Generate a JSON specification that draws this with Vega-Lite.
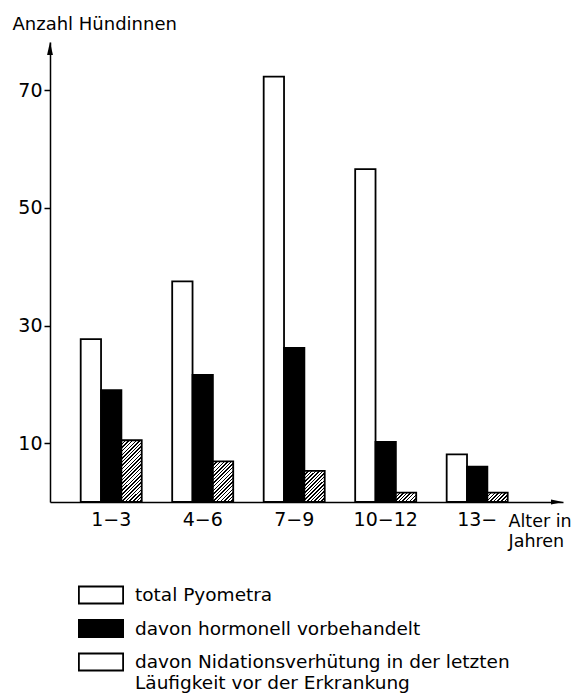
{
  "$schema": "https://vega.github.io/schema/vega-lite/v6.json",
  "width": 513,
  "height": 460,
  "autosize": {"type": "none"},
  "padding": {"left": 50, "top": 42, "right": 14, "bottom": 191},
  "background": "white",
  "config": {
    "view": {"stroke": null},
    "font": "DejaVu Sans",
    "axis": {"domainColor": "black", "domainWidth": 1.5, "tickColor": "black", "tickWidth": 1.5, "labelColor": "black", "titleColor": "black", "grid": false, "labelFont": "DejaVu Sans", "titleFont": "DejaVu Sans"},
    "legend": {"labelFont": "DejaVu Sans", "labelColor": "black"}
  },
  "layer": [
    {
      "data": {"values": [
        {"age": "1−3", "series": "total Pyometra", "n": 27.7},
        {"age": "1−3", "series": "davon hormonell vorbehandelt", "n": 19.0},
        {"age": "1−3", "series": "davon Nidationsverhütung in der letzten Läufigkeit vor der Erkrankung", "n": 10.5},
        {"age": "4−6", "series": "total Pyometra", "n": 37.5},
        {"age": "4−6", "series": "davon hormonell vorbehandelt", "n": 21.6},
        {"age": "4−6", "series": "davon Nidationsverhütung in der letzten Läufigkeit vor der Erkrankung", "n": 6.9},
        {"age": "7−9", "series": "total Pyometra", "n": 72.3},
        {"age": "7−9", "series": "davon hormonell vorbehandelt", "n": 26.2},
        {"age": "7−9", "series": "davon Nidationsverhütung in der letzten Läufigkeit vor der Erkrankung", "n": 5.3},
        {"age": "10−12", "series": "total Pyometra", "n": 56.6},
        {"age": "10−12", "series": "davon hormonell vorbehandelt", "n": 10.2},
        {"age": "10−12", "series": "davon Nidationsverhütung in der letzten Läufigkeit vor der Erkrankung", "n": 1.6},
        {"age": "13−", "series": "total Pyometra", "n": 8.1},
        {"age": "13−", "series": "davon hormonell vorbehandelt", "n": 6.0},
        {"age": "13−", "series": "davon Nidationsverhütung in der letzten Läufigkeit vor der Erkrankung", "n": 1.6}
      ]},
      "mark": {"type": "bar", "stroke": "black", "strokeWidth": 1.8},
      "encoding": {
        "x": {
          "field": "age", "type": "nominal",
          "sort": ["1−3", "4−6", "7−9", "10−12", "13−"],
          "scale": {"paddingInner": 0.333, "paddingOuter": 0.47, "align": 0.357},
          "axis": {
            "title": ["Alter in", "Jahren"],
            "titleAngle": 0, "titleAlign": "left", "titleX": 458, "titleY": 24,
            "titleBaseline": "alphabetic", "titleFontSize": 17.5, "titleFontWeight": "normal", "titleLineHeight": 20,
            "ticks": false, "labelPadding": 8, "labelFontSize": 19, "labelAngle": 0
          }
        },
        "xOffset": {
          "field": "series", "type": "nominal",
          "sort": ["total Pyometra", "davon hormonell vorbehandelt", "davon Nidationsverhütung in der letzten Läufigkeit vor der Erkrankung"],
          "scale": {"paddingInner": 0, "paddingOuter": 0}
        },
        "y": {
          "field": "n", "type": "quantitative",
          "scale": {"domain": [0, 78.2], "nice": false},
          "axis": {
            "title": "Anzahl Hündinnen",
            "titleAngle": 0, "titleAlign": "left", "titleX": -38, "titleY": -13,
            "titleBaseline": "alphabetic", "titleFontSize": 18, "titleFontWeight": "normal",
            "values": [10, 30, 50, 70], "tickSize": 6, "labelPadding": 2, "labelFontSize": 19
          }
        },
        "fill": {
          "field": "series", "type": "nominal",
          "scale": {
            "domain": ["total Pyometra", "davon hormonell vorbehandelt", "davon Nidationsverhütung in der letzten Läufigkeit vor der Erkrankung"],
            "range": ["white", "black", "white"]
          },
          "condition": [
            {"test": "indexof(datum.series, 'Nidation') >= 0 && datum.age === '1−3'",
             "value": {"gradient": "linear", "x1": 0, "y1": 0, "x2": 0.4323, "y2": 1.3141, "stops": [
              {"offset":0,"color":"#000"},{"offset":0.016,"color":"#000"},{"offset":0.016,"color":"#fff"},{"offset":0.04,"color":"#fff"},
              {"offset":0.04,"color":"#000"},{"offset":0.056,"color":"#000"},{"offset":0.056,"color":"#fff"},{"offset":0.08,"color":"#fff"},
              {"offset":0.08,"color":"#000"},{"offset":0.096,"color":"#000"},{"offset":0.096,"color":"#fff"},{"offset":0.12,"color":"#fff"},
              {"offset":0.12,"color":"#000"},{"offset":0.136,"color":"#000"},{"offset":0.136,"color":"#fff"},{"offset":0.16,"color":"#fff"},
              {"offset":0.16,"color":"#000"},{"offset":0.176,"color":"#000"},{"offset":0.176,"color":"#fff"},{"offset":0.2,"color":"#fff"},
              {"offset":0.2,"color":"#000"},{"offset":0.216,"color":"#000"},{"offset":0.216,"color":"#fff"},{"offset":0.24,"color":"#fff"},
              {"offset":0.24,"color":"#000"},{"offset":0.256,"color":"#000"},{"offset":0.256,"color":"#fff"},{"offset":0.28,"color":"#fff"},
              {"offset":0.28,"color":"#000"},{"offset":0.296,"color":"#000"},{"offset":0.296,"color":"#fff"},{"offset":0.32,"color":"#fff"},
              {"offset":0.32,"color":"#000"},{"offset":0.336,"color":"#000"},{"offset":0.336,"color":"#fff"},{"offset":0.36,"color":"#fff"},
              {"offset":0.36,"color":"#000"},{"offset":0.376,"color":"#000"},{"offset":0.376,"color":"#fff"},{"offset":0.4,"color":"#fff"},
              {"offset":0.4,"color":"#000"},{"offset":0.416,"color":"#000"},{"offset":0.416,"color":"#fff"},{"offset":0.44,"color":"#fff"},
              {"offset":0.44,"color":"#000"},{"offset":0.456,"color":"#000"},{"offset":0.456,"color":"#fff"},{"offset":0.48,"color":"#fff"},
              {"offset":0.48,"color":"#000"},{"offset":0.496,"color":"#000"},{"offset":0.496,"color":"#fff"},{"offset":0.52,"color":"#fff"},
              {"offset":0.52,"color":"#000"},{"offset":0.536,"color":"#000"},{"offset":0.536,"color":"#fff"},{"offset":0.56,"color":"#fff"},
              {"offset":0.56,"color":"#000"},{"offset":0.576,"color":"#000"},{"offset":0.576,"color":"#fff"},{"offset":0.6,"color":"#fff"},
              {"offset":0.6,"color":"#000"},{"offset":0.616,"color":"#000"},{"offset":0.616,"color":"#fff"},{"offset":0.64,"color":"#fff"},
              {"offset":0.64,"color":"#000"},{"offset":0.656,"color":"#000"},{"offset":0.656,"color":"#fff"},{"offset":0.68,"color":"#fff"},
              {"offset":0.68,"color":"#000"},{"offset":0.696,"color":"#000"},{"offset":0.696,"color":"#fff"},{"offset":0.72,"color":"#fff"},
              {"offset":0.72,"color":"#000"},{"offset":0.736,"color":"#000"},{"offset":0.736,"color":"#fff"},{"offset":0.76,"color":"#fff"},
              {"offset":0.76,"color":"#000"},{"offset":0.776,"color":"#000"},{"offset":0.776,"color":"#fff"},{"offset":0.8,"color":"#fff"},
              {"offset":0.8,"color":"#000"},{"offset":0.816,"color":"#000"},{"offset":0.816,"color":"#fff"},{"offset":0.84,"color":"#fff"},
              {"offset":0.84,"color":"#000"},{"offset":0.856,"color":"#000"},{"offset":0.856,"color":"#fff"},{"offset":0.88,"color":"#fff"},
              {"offset":0.88,"color":"#000"},{"offset":0.896,"color":"#000"},{"offset":0.896,"color":"#fff"},{"offset":0.92,"color":"#fff"}
             ]}},
            {"test": "indexof(datum.series, 'Nidation') >= 0 && datum.age === '4−6'",
             "value": {"gradient": "linear", "x1": 0, "y1": 0, "x2": 0.71, "y2": 1.4179, "stops": [
              {"offset":0,"color":"#000"},{"offset":0.02,"color":"#000"},{"offset":0.02,"color":"#fff"},{"offset":0.05,"color":"#fff"},
              {"offset":0.05,"color":"#000"},{"offset":0.07,"color":"#000"},{"offset":0.07,"color":"#fff"},{"offset":0.1,"color":"#fff"},
              {"offset":0.1,"color":"#000"},{"offset":0.12,"color":"#000"},{"offset":0.12,"color":"#fff"},{"offset":0.15,"color":"#fff"},
              {"offset":0.15,"color":"#000"},{"offset":0.17,"color":"#000"},{"offset":0.17,"color":"#fff"},{"offset":0.2,"color":"#fff"},
              {"offset":0.2,"color":"#000"},{"offset":0.22,"color":"#000"},{"offset":0.22,"color":"#fff"},{"offset":0.25,"color":"#fff"},
              {"offset":0.25,"color":"#000"},{"offset":0.27,"color":"#000"},{"offset":0.27,"color":"#fff"},{"offset":0.3,"color":"#fff"},
              {"offset":0.3,"color":"#000"},{"offset":0.32,"color":"#000"},{"offset":0.32,"color":"#fff"},{"offset":0.35,"color":"#fff"},
              {"offset":0.35,"color":"#000"},{"offset":0.37,"color":"#000"},{"offset":0.37,"color":"#fff"},{"offset":0.4,"color":"#fff"},
              {"offset":0.4,"color":"#000"},{"offset":0.42,"color":"#000"},{"offset":0.42,"color":"#fff"},{"offset":0.45,"color":"#fff"},
              {"offset":0.45,"color":"#000"},{"offset":0.47,"color":"#000"},{"offset":0.47,"color":"#fff"},{"offset":0.5,"color":"#fff"},
              {"offset":0.5,"color":"#000"},{"offset":0.52,"color":"#000"},{"offset":0.52,"color":"#fff"},{"offset":0.55,"color":"#fff"},
              {"offset":0.55,"color":"#000"},{"offset":0.57,"color":"#000"},{"offset":0.57,"color":"#fff"},{"offset":0.6,"color":"#fff"},
              {"offset":0.6,"color":"#000"},{"offset":0.62,"color":"#000"},{"offset":0.62,"color":"#fff"},{"offset":0.65,"color":"#fff"},
              {"offset":0.65,"color":"#000"},{"offset":0.67,"color":"#000"},{"offset":0.67,"color":"#fff"},{"offset":0.7,"color":"#fff"},
              {"offset":0.7,"color":"#000"},{"offset":0.72,"color":"#000"},{"offset":0.72,"color":"#fff"},{"offset":0.75,"color":"#fff"},
              {"offset":0.75,"color":"#000"},{"offset":0.77,"color":"#000"},{"offset":0.77,"color":"#fff"},{"offset":0.8,"color":"#fff"},
              {"offset":0.8,"color":"#000"},{"offset":0.82,"color":"#000"},{"offset":0.82,"color":"#fff"},{"offset":0.85,"color":"#fff"}
             ]}},
            {"test": "indexof(datum.series, 'Nidation') >= 0 && datum.age === '7−9'",
             "value": {"gradient": "linear", "x1": 0, "y1": 0, "x2": 0.8445, "y2": 1.296, "stops": [
              {"offset":0,"color":"#000"},{"offset":0.025,"color":"#000"},{"offset":0.025,"color":"#fff"},{"offset":0.0625,"color":"#fff"},
              {"offset":0.0625,"color":"#000"},{"offset":0.0875,"color":"#000"},{"offset":0.0875,"color":"#fff"},{"offset":0.125,"color":"#fff"},
              {"offset":0.125,"color":"#000"},{"offset":0.15,"color":"#000"},{"offset":0.15,"color":"#fff"},{"offset":0.1875,"color":"#fff"},
              {"offset":0.1875,"color":"#000"},{"offset":0.2125,"color":"#000"},{"offset":0.2125,"color":"#fff"},{"offset":0.25,"color":"#fff"},
              {"offset":0.25,"color":"#000"},{"offset":0.275,"color":"#000"},{"offset":0.275,"color":"#fff"},{"offset":0.3125,"color":"#fff"},
              {"offset":0.3125,"color":"#000"},{"offset":0.3375,"color":"#000"},{"offset":0.3375,"color":"#fff"},{"offset":0.375,"color":"#fff"},
              {"offset":0.375,"color":"#000"},{"offset":0.4,"color":"#000"},{"offset":0.4,"color":"#fff"},{"offset":0.4375,"color":"#fff"},
              {"offset":0.4375,"color":"#000"},{"offset":0.4625,"color":"#000"},{"offset":0.4625,"color":"#fff"},{"offset":0.5,"color":"#fff"},
              {"offset":0.5,"color":"#000"},{"offset":0.525,"color":"#000"},{"offset":0.525,"color":"#fff"},{"offset":0.5625,"color":"#fff"},
              {"offset":0.5625,"color":"#000"},{"offset":0.5875,"color":"#000"},{"offset":0.5875,"color":"#fff"},{"offset":0.625,"color":"#fff"},
              {"offset":0.625,"color":"#000"},{"offset":0.65,"color":"#000"},{"offset":0.65,"color":"#fff"},{"offset":0.6875,"color":"#fff"},
              {"offset":0.6875,"color":"#000"},{"offset":0.7125,"color":"#000"},{"offset":0.7125,"color":"#fff"},{"offset":0.75,"color":"#fff"},
              {"offset":0.75,"color":"#000"},{"offset":0.775,"color":"#000"},{"offset":0.775,"color":"#fff"},{"offset":0.8125,"color":"#fff"},
              {"offset":0.8125,"color":"#000"},{"offset":0.8375,"color":"#000"},{"offset":0.8375,"color":"#fff"},{"offset":0.875,"color":"#fff"},
              {"offset":0.875,"color":"#000"},{"offset":0.9,"color":"#000"},{"offset":0.9,"color":"#fff"},{"offset":0.9375,"color":"#fff"}
             ]}},
            {"test": "indexof(datum.series, 'Nidation') >= 0 && (datum.age === '10−12' || datum.age === '13−')",
             "value": {"gradient": "linear", "x1": 0, "y1": 0, "x2": 1.4588, "y2": 0.6745, "stops": [
              {"offset":0,"color":"#000"},{"offset":0.04,"color":"#000"},{"offset":0.04,"color":"#fff"},{"offset":0.1,"color":"#fff"},
              {"offset":0.1,"color":"#000"},{"offset":0.14,"color":"#000"},{"offset":0.14,"color":"#fff"},{"offset":0.2,"color":"#fff"},
              {"offset":0.2,"color":"#000"},{"offset":0.24,"color":"#000"},{"offset":0.24,"color":"#fff"},{"offset":0.3,"color":"#fff"},
              {"offset":0.3,"color":"#000"},{"offset":0.34,"color":"#000"},{"offset":0.34,"color":"#fff"},{"offset":0.4,"color":"#fff"},
              {"offset":0.4,"color":"#000"},{"offset":0.44,"color":"#000"},{"offset":0.44,"color":"#fff"},{"offset":0.5,"color":"#fff"},
              {"offset":0.5,"color":"#000"},{"offset":0.54,"color":"#000"},{"offset":0.54,"color":"#fff"},{"offset":0.6,"color":"#fff"},
              {"offset":0.6,"color":"#000"},{"offset":0.64,"color":"#000"},{"offset":0.64,"color":"#fff"},{"offset":0.7,"color":"#fff"},
              {"offset":0.7,"color":"#000"},{"offset":0.74,"color":"#000"},{"offset":0.74,"color":"#fff"},{"offset":0.8,"color":"#fff"},
              {"offset":0.8,"color":"#000"},{"offset":0.84,"color":"#000"},{"offset":0.84,"color":"#fff"},{"offset":0.9,"color":"#fff"}
             ]}}
          ],
          "legend": {
            "title": null,
            "orient": "none", "legendX": 33, "legendY": 535, "direction": "vertical",
            "symbolType": "M-1.3,-0.5H1.3V0.5H-1.3Z", "symbolSize": 1156,
            "symbolStrokeColor": "black", "symbolStrokeWidth": 1.8,
            "labelFontSize": 18.5, "labelLimit": 600, "labelOffset": 16, "rowPadding": 2.5, "padding": 0,
            "labelExpr": "indexof(datum.label, 'Nidation') >= 0 ? ['davon Nidationsverhütung in der letzten', 'Läufigkeit vor der Erkrankung'] : datum.label"
          }
        }
      }
    },
    {
      "data": {"values": [{}]},
      "mark": {"type": "point", "shape": "M0,0L0.45,2L-0.45,2Z", "filled": true, "color": "black", "opacity": 1, "size": 169, "strokeWidth": 0},
      "encoding": {
        "x": {"datum": 0, "type": "quantitative", "scale": {"domain": [0, 1]}, "axis": null},
        "y": {"datum": 78.2, "type": "quantitative", "scale": {"domain": [0, 78.2], "nice": false}}
      }
    },
    {
      "data": {"values": [{}]},
      "mark": {"type": "point", "shape": "M0,0L-2,-0.42L-2,0.42Z", "filled": true, "color": "black", "opacity": 1, "size": 144, "strokeWidth": 0},
      "encoding": {
        "x": {"datum": 1, "type": "quantitative", "scale": {"domain": [0, 1]}, "axis": null},
        "y": {"datum": 0, "type": "quantitative", "scale": {"domain": [0, 78.2], "nice": false}}
      }
    }
  ],
  "resolve": {"scale": {"x": "independent"}}
}
